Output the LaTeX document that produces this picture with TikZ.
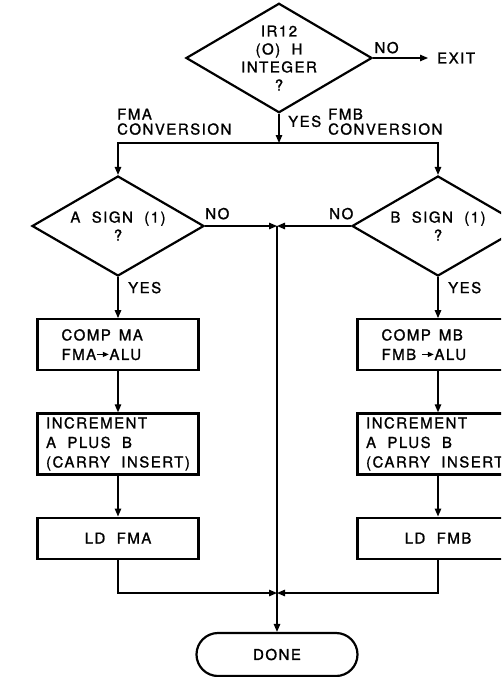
\documentclass[tikz,border=0pt]{standalone}
\usepackage{fontspec}
\setmainfont{TeX Gyre Heros}[LetterSpace=10, WordSpace=2, FakeBold=1.2]
\usetikzlibrary{arrows.meta}
\usetikzlibrary{positioning}
\usetikzlibrary{shapes.geometric}

% small arrow inside the box texts
\newcommand{\toalu}{\tikz[baseline=-5.5pt]\draw[line width=1.3pt,-{Triangle[length=6pt,width=5pt]}] (0pt,0pt) -- (12pt,0pt);}

\begin{document}
\begin{tikzpicture}[
    x=1pt, y=-1pt,
    node distance=41pt,  % gap between the boxes of a column
    decision/.style={
        diamond,
        draw,
        line width=2.2pt,
        minimum width=172pt,
        minimum height=101pt,
        aspect=1.7,
        inner sep=0pt,
        align=center,
        font=\fontsize{15}{18}\selectfont
    },
    process/.style={
        rectangle,
        draw,
        line width=2.2pt,
        minimum width=161pt,
        align=left,
        font=\fontsize{15}{19.5}\selectfont
    },
    terminal/.style={
        rectangle,
        draw,
        line width=2.2pt,
        rounded corners=21.5pt,
        minimum width=161pt,
        minimum height=43pt,
        font=\fontsize{15}{18}\selectfont
    },
    myarrow/.style={
        -{Triangle[length=8pt, width=6.5pt]},
        line width=1.3pt
    },
    plain/.style={
        line width=1.3pt
    },
    lab/.style={
        inner sep=0pt,
        align=left,
        font=\fontsize{15}{15}\selectfont
    }
]

\clip (0,0) rectangle (501,677);

% Define the decision nodes
\node[decision] (intq) at (279,58) {IR12\\(O) H\\INTEGER\\?};
\node[decision, minimum height=100pt] (adec) at (118,226) {A SIGN (1)\\?};
\node[decision, minimum height=100pt] (bdec) at (438,226) {B SIGN (1)\\?};
\node[lab, anchor=west] (exit) at (437,58) {EXIT};

% Left column
\node[process, below=of adec, minimum height=51pt, text width=113pt, inner xsep=0pt] (acomp) {COMP\hspace{3pt} MA\\FMA\toalu ALU};
\node[process, below=of acomp, minimum height=61pt] (ainc) {INCREMENT\\A PLUS B\\(CARRY INSERT)};
\node[process, below=of ainc, minimum height=41pt, align=center] (ald) {LD FMA};

% Right column
\node[process, below=of bdec, minimum height=51pt, text width=113pt, inner xsep=0pt] (bcomp) {COMP\hspace{3pt} MB\\FMB \toalu ALU};
\node[process, below=of bcomp, minimum height=61pt] (binc) {INCREMENT\\A PLUS B\\(CARRY INSERT)};
\node[process, below=of binc, minimum height=41pt, align=center] (bld) {LD FMB};

% Junctions and end
\coordinate (split) at (279,143);
\coordinate (jn1) at (277,226);
\coordinate (jn2) at (277,593);
\node[terminal] (done) at (277,654.5) {DONE};

% Labels
\node[lab, anchor=south west] (fmalab) at (117,135) {FMA\\CONVERSION};
\node[lab, anchor=south west] (fmblab) at (328,135) {FMB\\CONVERSION};
\node[lab, anchor=base west] (yes0) at ([xshift=9pt, yshift=-13pt]intq.south) {YES};
\node[lab, anchor=base west] (yesa) at ([xshift=10pt, yshift=-16pt]adec.south) {YES};
\node[lab, anchor=base west] (yesb) at ([xshift=10pt, yshift=-16pt]bdec.south) {YES};

% Connect nodes with arrows
\draw[myarrow, shorten >=9pt] (intq) -- node[lab, pos=0.21, above=4pt] {NO} (exit);
\draw[myarrow] (intq) -- (split);
\draw[myarrow] (split) -| (adec);
\draw[myarrow] (split) -| (bdec);
\draw[myarrow] (adec) -- node[lab, pos=0.17, above=6pt] {NO} (jn1);
\draw[myarrow] (bdec) -- node[lab, pos=0.13, above=6pt] {NO} (jn1);
\draw[myarrow] (adec) -- (acomp);
\draw[myarrow] (acomp) -- (ainc);
\draw[myarrow] (ainc) -- (ald);
\draw[myarrow] (bdec) -- (bcomp);
\draw[myarrow] (bcomp) -- (binc);
\draw[myarrow] (binc) -- (bld);
\draw[myarrow] (ald) |- (jn2);
\draw[myarrow] (bld) |- (jn2);
\draw[plain] (jn1) -- (jn2);
\draw[myarrow] (jn2) -- (done);

\end{tikzpicture}
\end{document}
